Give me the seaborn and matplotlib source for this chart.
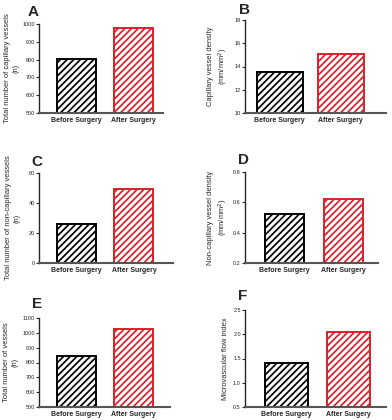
import numpy as np
import matplotlib
matplotlib.use("Agg")
import matplotlib.pyplot as plt
import seaborn as sns

## DADOS
groups = ["Before Surgery", "After Surgery"]

capillary_total = [805, 980]
capillary_density = [13.5, 15.1]
noncap_total = [26, 49.5]
noncap_density = [0.52, 0.62]
vessels_total = [845, 1025]
mfi = [1.4, 2.05]

ylabels = [
    "Total number of capillary vessels\n(n)",
    "Capillary vessel density\n(mm/mm$^2$)",
    "Total number of non-capillary vessels\n(n)",
    "Non-capillary vessel density\n(mm/mm$^2$)",
    "Total number of vessels\n(n)",
    "Microvascular flow index",
]
letters = ["A", "B", "C", "D", "E", "F"]
yticks = [
    [500, 600, 700, 800, 900, 1000],
    [10, 12, 14, 16, 18],
    [0, 20, 40, 60],
    [0.2, 0.4, 0.6, 0.8],
    [500, 600, 700, 800, 900, 1000, 1100],
    [0.5, 1.0, 1.5, 2.0, 2.5],
]
ytick_fmt = ["{:.0f}", "{:.0f}", "{:.0f}", "{:.1f}", "{:.0f}", "{:.1f}"]

## LAYOUT (pixels)
W, H = 392, 420
boxes = [  # x0, x1, ytop, ybot
    (39, 163, 24, 113),
    (245, 386, 20, 113),
    (39, 173, 173, 263),
    (245, 378, 172, 263),
    (39, 170, 318, 407),
    (245, 386, 310, 407),
]
xlims = [(-0.66, 1.52), (-0.57, 1.74), (-0.65, 1.68), (-0.67, 1.58), (-0.66, 1.64), (-0.66, 1.6)]
widths = [0.68, 0.75, 0.68, 0.66, 0.68, 0.69]
label_x = [-0.16, -0.106, -0.14, -0.11, -0.16, -0.11]
letter_pos = [(33, 12), (244, 10), (37, 162), (243, 160), (37, 304), (243, 296)]

RED = "#d9202a"

sns.set_style("ticks")
plt.rcParams["font.family"] = ["Liberation Sans", "DejaVu Sans"]
plt.rcParams["hatch.linewidth"] = 1.25

fig = plt.figure(figsize=(W / 100, H / 100), dpi=100)

datasets = [capillary_total, capillary_density, noncap_total, noncap_density, vessels_total, mfi]

for i, vals in enumerate(datasets):
    x0, x1, yt, yb = boxes[i]
    ax = fig.add_axes([x0 / W, 1 - yb / H, (x1 - x0) / W, (yb - yt) / H])
    sns.barplot(x=groups, y=vals, ax=ax, color="white", width=widths[i],
                linewidth=1.4, saturation=1)
    for p, ec in zip(ax.patches, ["black", RED]):
        p.set_edgecolor(ec)
        p.set_hatch("/////")
        p.set_facecolor("white")
    ax.set_xlim(*xlims[i])
    yt_vals = yticks[i]
    ax.set_ylim(yt_vals[0], yt_vals[-1])
    ax.set_yticks(yt_vals)
    ax.set_yticklabels([ytick_fmt[i].format(v) for v in yt_vals], fontsize=4)
    ax.tick_params(axis="y", length=2, width=0.8, pad=1)
    ax.tick_params(axis="x", length=0, pad=3)
    for lab in ax.get_xticklabels():
        lab.set_fontsize(5)
        lab.set_fontweight("bold")
    sns.despine(ax=ax)
    ax.spines["left"].set_linewidth(1.0)
    ax.spines["bottom"].set_linewidth(1.5)
    ax.spines["bottom"].set_color("#555555")
    ax.set_ylabel(ylabels[i], fontsize=5.4, linespacing=1.3)
    ax.yaxis.set_label_coords(label_x[i], 0.5)
    lx, ly = letter_pos[i]
    fig.text(lx / W, 1 - ly / H, letters[i], fontsize=11, fontweight="bold",
             ha="center", va="center")

fig.savefig("out.png", dpi=100)
